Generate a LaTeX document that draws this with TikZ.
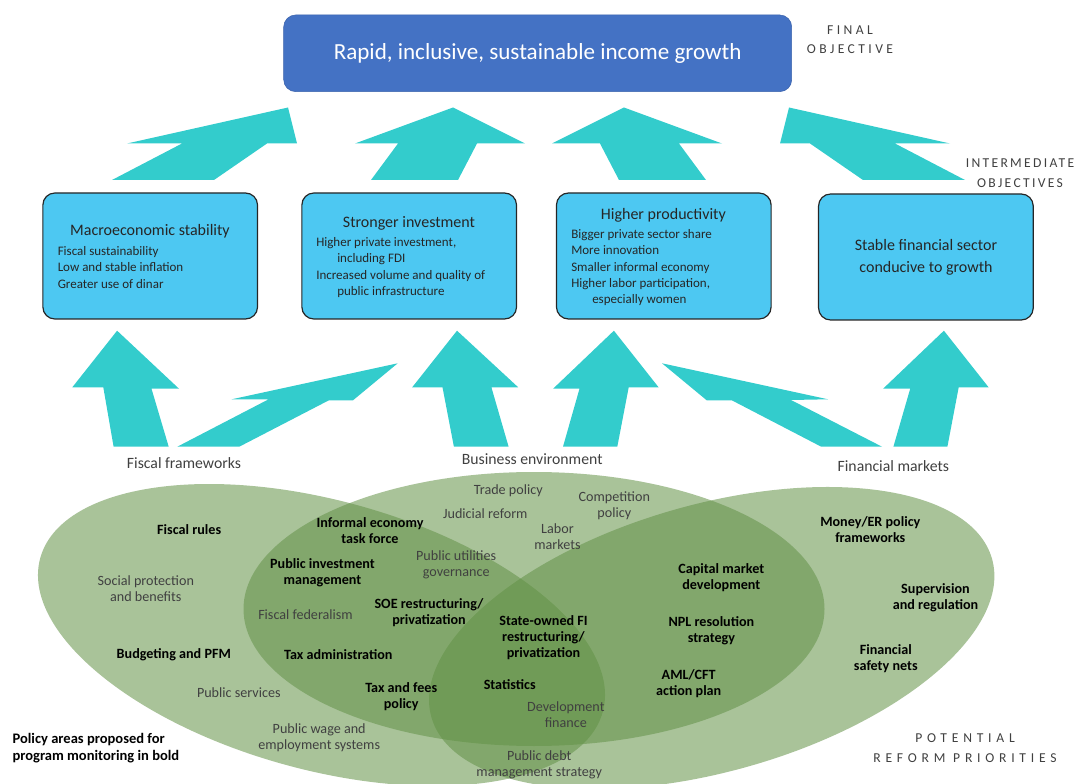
\documentclass[tikz,border=0pt]{standalone}
\usepackage{fontspec}
\setmainfont{Carlito}
\newfontfamily\tiercaps[LetterSpace=25]{Carlito}
\newfontfamily\slimcaps[LetterSpace=17]{Carlito}
\newfontfamily\widecaps[LetterSpace=35]{Carlito}
\usepackage{tikz}
\usetikzlibrary{backgrounds}
\definecolor{goalblue}{HTML}{4472C4}
\definecolor{goalline}{HTML}{3A62AC}
\definecolor{objblue}{HTML}{4DC8F2}
\definecolor{liftteal}{HTML}{33CCCC}
\definecolor{venngreen}{RGB}{98,145,70}
\definecolor{inkgray}{HTML}{404040}
\tikzstyle{goal}=[rectangle,rounded corners=9pt,draw=goalline,fill=goalblue,text=white,minimum width=381pt,minimum height=57.5pt,font={\fontsize{17.3}{21}\selectfont}]
\tikzstyle{objective}=[rectangle,rounded corners=9pt,draw=black!85,line width=0.9pt,fill=objblue,minimum width=161pt,minimum height=94.5pt]
\tikzstyle{heading}=[inner sep=0pt,align=center,text=black!85,font={\fontsize{12}{16.5}\selectfont}]
\tikzstyle{target}=[inner sep=0pt,anchor=west,align=left,text=black!85,font={\fontsize{9.75}{12.3}\selectfont}]
\tikzstyle{lift}=[fill=liftteal]
\tikzstyle{venn}=[fill=venngreen,fill opacity=0.55]
\tikzstyle{pillar}=[inner sep=0pt,text=inkgray,font={\fontsize{11.8}{14}\selectfont}]
\tikzstyle{policy}=[inner sep=0pt,align=center,text=inkgray,font={\fontsize{10.6}{12}\selectfont}]
\tikzstyle{proposed}=[inner sep=0pt,align=center,text=black,font={\fontsize{10.6}{12}\selectfont\bfseries}]
\tikzstyle{tier}=[inner sep=0pt,align=center,text=inkgray,font={\tiercaps\fontsize{10.2}{14.5}\selectfont}]
\tikzstyle{slimtier}=[tier,font={\slimcaps\fontsize{10.2}{15}\selectfont}]
\tikzstyle{widetier}=[tier,font={\widecaps\fontsize{10.2}{14.5}\selectfont}]
\begin{document}
\begin{tikzpicture}[x=0.75pt,y=-0.75pt]
  \useasboundingbox (0,0) rectangle (1079,784);
  \begin{pgfonlayer}{background}
    \fill[venn,rotate around={-15.29:(321.5,635)}] (321.5,635) ellipse [x radius=291.6,y radius=134.7];
    \fill[venn] (534,609) ellipse [x radius=290.5,y radius=137];
    \fill[venn,rotate around={15.77:(711.7,638)}] (711.7,638) ellipse [x radius=291.3,y radius=133.6];
  \end{pgfonlayer}
  \node at (537.7,53.3) [goal] (Goal) {Rapid, inclusive, sustainable income growth};
  \node at (850,39.5) [tier] (FinalTier) {FINAL\\OBJECTIVE};
  \node at (1020,173) [slimtier] (MidTier) {INTERMEDIATE\\OBJECTIVES};
  \node at (965,748) [widetier] (ReformTier) {POTENTIAL\\REFORM PRIORITIES};
  \fill[lift] (112,180) -- (182,143.5) -- (127,143.5) -- (288,107.5) -- (297,143.5) -- (267,143.5) -- (214,180) -- cycle;
  \fill[lift] (371,180) -- (398,143.5) -- (355,143.5) -- (453,107.5) -- (525,143.5) -- (477,143.5) -- (458,180) -- cycle;
  \fill[lift] (706,180) -- (679,143.5) -- (722,143.5) -- (624,107.5) -- (552,143.5) -- (600,143.5) -- (619,180) -- cycle;
  \fill[lift] (965,180) -- (895,143.5) -- (950,143.5) -- (789,107.5) -- (780,143.5) -- (810,143.5) -- (863,180) -- cycle;
  \node at (150.2,256) [objective] (Macro) {};
  \node at (409.2,256) [objective] (Invest) {};
  \node at (663.8,256) [objective] (Product) {};
  \node at (925.9,257) [objective] (FinSector) {};
  \node at (150,231) [heading] (MacroTitle) {Macroeconomic stability};
  \node at (57.5,267.5) [target] (MacroList) {Fiscal sustainability\\Low and stable inflation\\Greater use of dinar};
  \node at (409,223) [heading] (InvestTitle) {Stronger investment};
  \node at (316,267.5) [target] (InvestList) {Higher private investment,\\\hspace*{15.75pt}including FDI\\Increased volume and quality of\\\hspace*{15.75pt}public infrastructure};
  \node at (663.4,215) [heading] (ProductTitle) {Higher productivity};
  \node at (571,267.6) [target] (ProductList) {Bigger private sector share\\More innovation\\Smaller informal economy\\Higher labor participation,\\\hspace*{15.75pt}especially women};
  \node at (926,257) [heading] (FinSectorTitle) {Stable financial sector\\conducive to growth};
  \fill[lift] (117.1,330.7) -- (72.3,387.3) -- (103.3,387.3) -- (113.6,446.7) -- (168.7,446.7) -- (151.5,388.7) -- (179,388.7) -- cycle;
  \fill[lift] (177.3,446.7) -- (268.6,399.3) -- (231.7,399.3) -- (397.7,363.3) -- (353,400.3) -- (328.9,400.3) -- (239.3,446.7) -- cycle;
  \fill[lift] (457,330.7) -- (412.2,387.3) -- (442.5,387.3) -- (453.9,446.7) -- (508.6,446.7) -- (491.4,387.3) -- (518.2,387.3) -- cycle;
  \fill[lift] (613.9,330.7) -- (553.1,388.7) -- (579.5,388.7) -- (563,446.7) -- (617.3,446.7) -- (628.7,387.3) -- (658.6,387.3) -- cycle;
  \fill[lift] (662,363.3) -- (706.7,400.3) -- (731.8,400.3) -- (821.2,446.7) -- (882,446.7) -- (791,400) -- (828,399.3) -- cycle;
  \fill[lift] (943.9,330.7) -- (883.1,388.7) -- (910.2,388.7) -- (893.4,446.7) -- (947.4,446.7) -- (958.7,387.3) -- (988.6,387.3) -- cycle;
  \node at (184,463) [pillar] (Fiscal) {Fiscal frameworks};
  \node at (532.2,459) [pillar] (Business) {Business environment};
  \node at (893.3,466) [pillar] (Financial) {Financial markets};
  \node at (189.2,529.3) [proposed] (FiscalRules) {Fiscal rules};
  \node at (145.8,588.7) [policy] (Social) {Social protection\\and benefits};
  \node at (173.8,654.3) [proposed] (Budgeting) {Budgeting and PFM};
  \node at (238.8,692.3) [policy] (Services) {Public services};
  \node at (319.2,738) [policy] (Wage) {Public wage and\\employment systems};
  \node at (305.5,614.3) [policy] (Federalism) {Fiscal federalism};
  \node at (322.5,572.5) [proposed] (PIM) {Public investment\\management};
  \node at (338.3,655) [proposed] (TaxAdmin) {Tax administration};
  \node at (370,530.3) [proposed] (Informal) {Informal economy\\task force};
  \node at (456.2,564.7) [policy] (Utilities) {Public utilities\\governance};
  \node at (429,612.3) [proposed] (SOE) {SOE restructuring/\\privatization};
  \node at (401.2,696.7) [proposed] (TaxPolicy) {Tax and fees\\policy};
  \node at (508.3,490.7) [policy] (Trade) {Trade policy};
  \node at (485.3,513.3) [policy] (Judicial) {Judicial reform};
  \node at (614.3,506) [policy] (Competition) {Competition\\policy};
  \node at (557.5,536.3) [policy] (Labor) {Labor\\markets};
  \node at (543.5,637.3) [proposed] (StateFI) {State-owned FI\\restructuring/\\privatization};
  \node at (509.7,684.3) [proposed] (Statistics) {Statistics};
  \node at (565.8,714.7) [policy] (DevFinance) {Development\\finance};
  \node at (539.2,764.5) [policy] (Debt) {Public debt\\management strategy};
  \node at (721.3,578) [proposed] (Capital) {Capital market\\development};
  \node at (711.4,630.7) [proposed] (NPL) {NPL resolution\\strategy};
  \node at (688.7,683.7) [proposed] (AML) {AML/CFT\\action plan};
  \node at (870.3,529.5) [proposed] (Money) {Money/ER policy\\frameworks};
  \node at (935.5,597.8) [proposed] (Supervision) {Supervision\\and regulation};
  \node at (885.8,658.7) [proposed] (SafetyNets) {Financial\\safety nets};
  \node at (12.3,748) [proposed,anchor=west,align=left,font={\fontsize{10.9}{13}\selectfont\bfseries}] (Legend) {Policy areas proposed for\\program monitoring in bold};
\end{tikzpicture}
\end{document}
